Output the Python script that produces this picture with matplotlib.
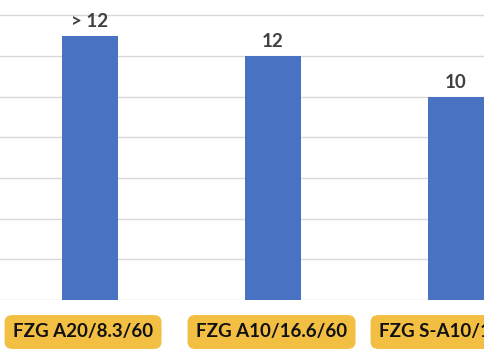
import matplotlib
matplotlib.use("Agg")
import matplotlib.pyplot as plt

categories = ["FZG A20/8.3/60", "FZG A10/16.6/60", "FZG S-A10/16.6/90"]
values = [13, 12, 10]
value_labels = ["> 12", "12", "10"]

BAR_COLOR = "#4A72C2"
BOX_COLOR = "#F2BF42"
TEXT_COLOR = "#404040"

fig = plt.figure(figsize=(4.85, 3.6), dpi=100)
# the chart is cropped on the left and right, so the axes run past the figure edges
ax = fig.add_axes([0, 60 / 360, 1, 300 / 360])

x = list(range(len(categories)))
ax.bar(x, values, width=0.306, color=BAR_COLOR, zorder=2)
ax.set_xlim(-90 / 183, -90 / 183 + 485 / 183)
ax.set_ylim(0, 14.75)
ax.set_yticks(range(0, 15, 2))
ax.grid(axis="y", color="#d9d9d9", linewidth=1, zorder=0)
ax.tick_params(left=False, bottom=False, labelleft=False, labelbottom=False)
for s in ax.spines.values():
    s.set_visible(False)

for xi, v, lab in zip(x, values, value_labels):
    ax.annotate(lab, (xi, v), xytext=(0, 6), textcoords="offset pixels",
                ha="center", va="bottom", fontsize=13.5, fontweight="bold",
                color=TEXT_COLOR, family="Lato")

# category labels in rounded yellow boxes below the axis
for xi, cat in zip(x, categories):
    ax.annotate(cat, (xi, 0), xycoords=("data", "axes fraction"),
                xytext=(-77, -32), textcoords="offset pixels",
                ha="left", va="center", fontsize=13.5, fontweight="bold",
                color="#111111", family="Lato", annotation_clip=False,
                bbox=dict(boxstyle="round,pad=0.45,rounding_size=0.4",
                          fc=BOX_COLOR, ec="none"))

fig.savefig("out.png", dpi=100)
